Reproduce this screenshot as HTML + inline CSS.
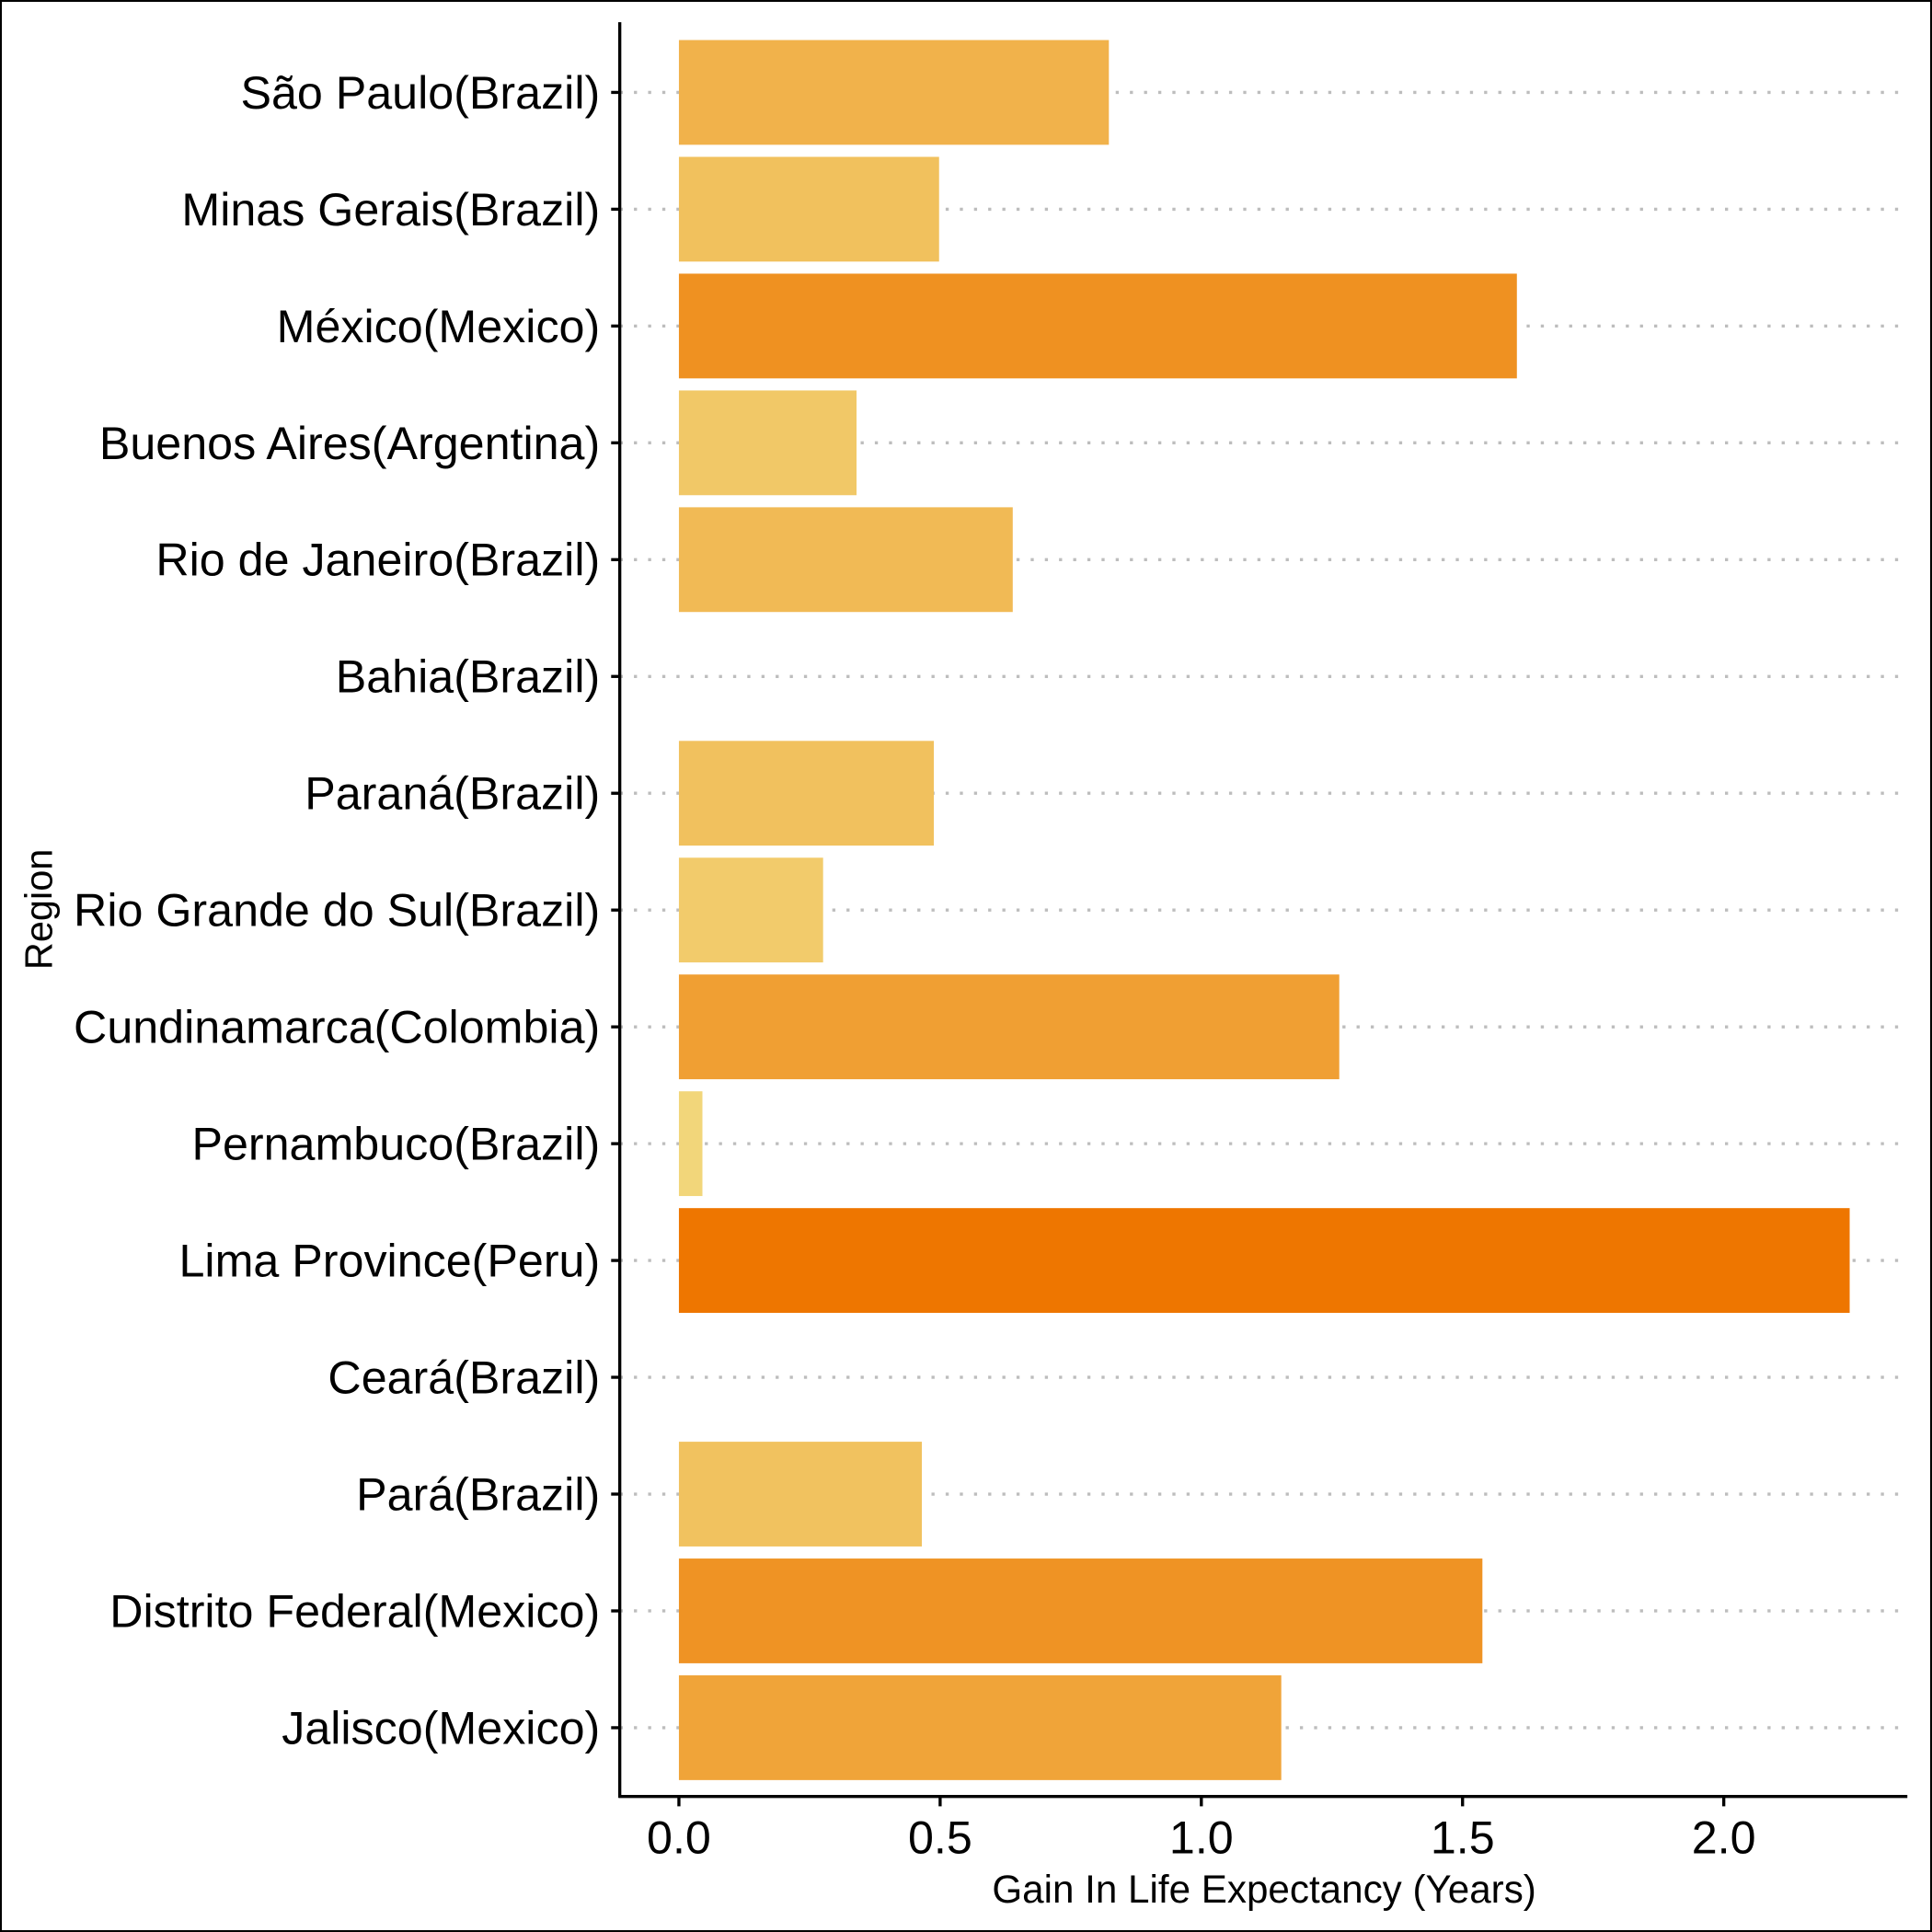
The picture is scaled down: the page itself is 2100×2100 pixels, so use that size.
<!DOCTYPE html>
<html><head><meta charset="utf-8"><style>
html,body{margin:0;padding:0;background:#fff}
svg{display:block}
text{font-family:"Liberation Sans",Arial,sans-serif;fill:#000}
</style></head><body>
<svg id="chart" width="2100" height="2100" viewBox="0 0 1568 1568" xmlns="http://www.w3.org/2000/svg">
<rect x="0.75" y="0.75" width="1566.5" height="1566.5" fill="#fff" stroke="#000" stroke-width="1.5"/>
<g id="grid"></g><g id="bars"></g><g id="yaxis"></g><g id="xaxis"></g>
<text x="1026" y="1544" font-size="31.5" text-anchor="middle">Gain In Life Expectancy (Years)</text>
<text transform="translate(42,738) rotate(-90)" font-size="31" text-anchor="middle">Region</text>
</svg>
<script>
const categories=["São Paulo(Brazil)","Minas Gerais(Brazil)","México(Mexico)","Buenos Aires(Argentina)","Rio de Janeiro(Brazil)","Bahia(Brazil)","Paraná(Brazil)","Rio Grande do Sul(Brazil)","Cundinamarca(Colombia)","Pernambuco(Brazil)","Lima Province(Peru)","Ceará(Brazil)","Pará(Brazil)","Distrito Federal(Mexico)","Jalisco(Mexico)"];
const values=[0.823,0.498,1.604,0.340,0.639,0,0.488,0.276,1.264,0.045,2.241,0,0.465,1.538,1.153];
const xTicks=[0,0.5,1.0,1.5,2.0];
const xTickLabels=["0.0","0.5","1.0","1.5","2.0"];
const NS="http://www.w3.org/2000/svg";
const x0=551,pxPerUnit=424,yTop=75,step=94.8,barH=85,axisX=503,axisY=1458,plotRight=1548;
const xs=v=>x0+v*pxPerUnit;
const ys=i=>yTop+i*step;
const maxV=Math.max(...values);
function col(v){const t=maxV?v/maxV:0;const r=Math.round(242-4*t),g=Math.round(216-98*Math.pow(t,0.95)),b=Math.round(126-126*Math.pow(t,0.9));return `rgb(${r},${g},${b})`;}
function mk(tag,attrs,parent,txt){const e=document.createElementNS(NS,tag);for(const k in attrs)e.setAttribute(k,attrs[k]);if(txt!=null)e.textContent=txt;document.getElementById(parent).appendChild(e);return e;}
categories.forEach((c,i)=>{
 const y=ys(i);
 const g=mk('line',{x1:axisX,x2:plotRight,y1:y,y2:y,stroke:'#bdbdbd','stroke-width':2.5,'stroke-dasharray':'2.5 9'},'grid');
 
 
 if(values[i]>0){
  const b=mk('rect',{x:xs(0),y:y-barH/2,width:xs(values[i])-xs(0),height:barH,fill:col(values[i])},'bars');
  
  
 }
 const t=mk('line',{x1:axisX-7,x2:axisX,y1:y,y2:y,stroke:'#000','stroke-width':2.5},'yaxis');
 
 
 const l=mk('text',{x:487,y:y+13,'font-size':37.5,'text-anchor':'end'},'yaxis',c);
 
 
});
const ya=mk('line',{x1:axisX,x2:axisX,y1:18,y2:axisY+1,stroke:'#000','stroke-width':2.5},'yaxis');


const xa=mk('line',{x1:axisX-1,x2:plotRight,y1:axisY,y2:axisY,stroke:'#000','stroke-width':2.5},'xaxis');


xTicks.forEach((v,i)=>{
 const t=mk('line',{x1:xs(v),x2:xs(v),y1:axisY,y2:axisY+8,stroke:'#000','stroke-width':2.5},'xaxis');
 
 
 const l=mk('text',{x:xs(v),y:1504,'font-size':37.5,'text-anchor':'middle'},'xaxis',xTickLabels[i]);
 
 
});
</script>
</body></html>
